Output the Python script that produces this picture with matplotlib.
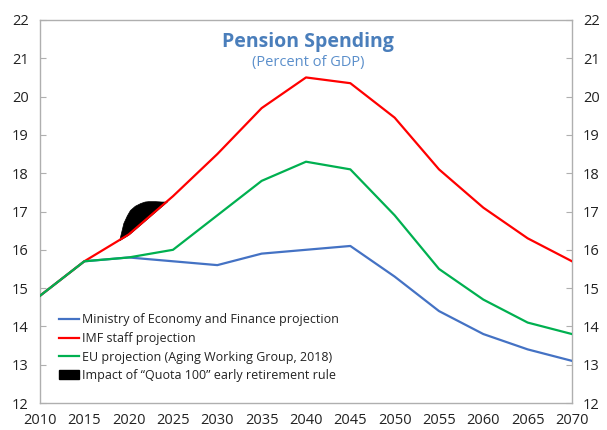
import numpy as np
import matplotlib
matplotlib.use("Agg")
import matplotlib.pyplot as plt
from matplotlib.patches import Patch
from matplotlib.lines import Line2D

plt.rcParams['font.family'] = ['Open Sans', 'DejaVu Sans']

years = [2010, 2015, 2020, 2025, 2030, 2035, 2040, 2045, 2050, 2055, 2060, 2065, 2070]
mef = [14.8, 15.7, 15.8, 15.7, 15.6, 15.9, 16.0, 16.1, 15.3, 14.4, 13.8, 13.4, 13.1]
imf = [14.8, 15.7, 16.4, 17.4, 18.5, 19.7, 20.5, 20.35, 19.45, 18.1, 17.1, 16.3, 15.7]
eu = [14.8, 15.7, 15.8, 16.0, 16.9, 17.8, 18.3, 18.1, 16.9, 15.5, 14.7, 14.1, 13.8]

quota_x = [2018.95, 2019.4, 2019.8, 2020.15, 2020.7, 2021.3, 2021.8, 2022.2, 2023.0, 2023.7, 2024.3]
quota_top = [16.27, 16.70, 16.90, 17.04, 17.15, 17.22, 17.26, 17.27, 17.27, 17.26, 17.26]

labels = ["Ministry of Economy and Finance projection", "IMF staff projection",
          "EU projection (Aging Working Group, 2018)", "Impact of \u201cQuota 100\u201d early retirement rule"]

fig = plt.figure(figsize=(6.07, 4.30), dpi=100)
ax = fig.add_axes([40/607, 27/430, 532/607, 383/430])

qx = np.array(quota_x)
ax.fill_between(qx, np.interp(qx, years, imf), quota_top, color='black', lw=0.5, zorder=2)

ax.plot(years, mef, color='#4472C4', lw=1.6, zorder=3)
ax.plot(years, imf, color='#FF0000', lw=1.6, zorder=3)
ax.plot(years, eu, color='#00B050', lw=1.6, zorder=3)

ax.set_xlim(2010, 2070)
ax.set_ylim(12, 22)
ax.set_xticks(years)
ax.set_yticks(range(12, 23))
for s in ax.spines.values():
    s.set_color('#AFAFAF')
    s.set_linewidth(1.0)
ax.tick_params(axis='x', length=0, pad=7, labelsize=10.5, colors='#222222')
ax.tick_params(axis='y', direction='in', length=4, color='#AFAFAF', labelsize=10.5,
               labelcolor='#222222', pad=8, right=True, labelright=True)

ax.text(0.504, 0.943, "Pension Spending", transform=ax.transAxes, ha='center', va='center',
        fontsize=14, fontweight='bold', color='#4A7EBB')
ax.text(0.504, 0.890, "(Percent of GDP)", transform=ax.transAxes, ha='center', va='center',
        fontsize=10.5, color='#5B8FCB')

handles = [Line2D([0], [0], color='#4472C4', lw=1.6),
           Line2D([0], [0], color='#FF0000', lw=1.6),
           Line2D([0], [0], color='#00B050', lw=1.6),
           Patch(facecolor='black', edgecolor='black')]
leg = ax.legend(handles, labels, loc='lower left', bbox_to_anchor=(0.015, 0.025), frameon=False,
                fontsize=9, handlelength=1.6, handletextpad=0.2, labelspacing=0.45,
                labelcolor='#222222')

fig.savefig("out.png", dpi=100)
